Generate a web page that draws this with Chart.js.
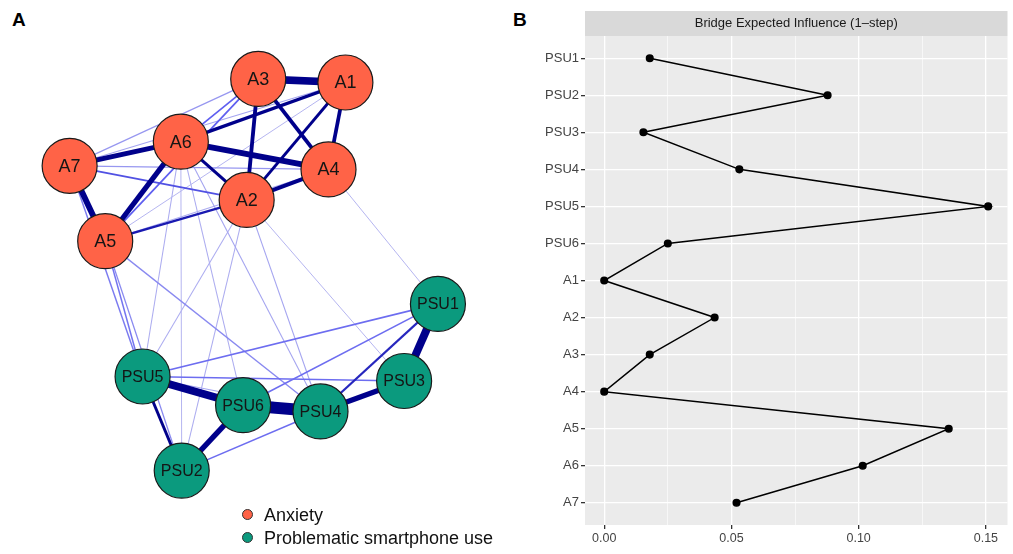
<!DOCTYPE html>
<html>
<head>
<meta charset="utf-8">
<script src="https://cdn.jsdelivr.net/npm/chart.js@4.4.0/dist/chart.umd.min.js"></script>
<style>
  body { margin: 0; width: 1013px; height: 554px; background: #fff; position: relative; overflow: hidden;
         font-family: "Liberation Sans", Arial, sans-serif; }
  #net { position: absolute; left: 0; top: 0; }
  #bei { position: absolute; left: 520px; top: 0; }
  .tag { position: absolute; font-weight: bold; font-size: 19px; color: #000; }
  .leg { position: absolute; font-size: 18px; color: #111; line-height: 20px; white-space: nowrap; }
  .dot { position: absolute; width: 11px; height: 11px; border-radius: 50%; border: 1px solid #333; box-sizing: border-box; }
</style>
</head>
<body>
<div class="tag" style="left:12px;top:9px">A</div>
<div class="tag" style="left:513px;top:9px">B</div>
<canvas id="net" width="520" height="554"></canvas>
<canvas id="bei" width="493" height="554"></canvas>
<div class="dot" style="left:242px;top:509px;background:#FF6347"></div>
<div class="leg" style="left:264px;top:505px">Anxiety</div>
<div class="dot" style="left:242px;top:532px;background:#0B9A7E"></div>
<div class="leg" style="left:264px;top:528px">Problematic smartphone use</div>
<script>
// network nodes (layout from the figure)
const nodeNames = ['A1', 'A2', 'A3', 'A4', 'A5', 'A6', 'A7', 'PSU1', 'PSU2', 'PSU3', 'PSU4', 'PSU5', 'PSU6'];
const nodeX = [356, 245, 258, 337, 86, 171, 46, 460, 172, 422, 328, 128, 241];
const nodeY = [60, 191, 56, 157, 237, 126, 153, 307, 493, 393, 427, 388, 420];
const nodeGroup = ['Anxiety', 'Anxiety', 'Anxiety', 'Anxiety', 'Anxiety', 'Anxiety', 'Anxiety',
                   'PSU', 'PSU', 'PSU', 'PSU', 'PSU', 'PSU'];

// edges (estimated strength)
const edgeFrom = ['A3', 'A7', 'A6', 'A6', 'A6', 'A3', 'A3', 'A4', 'A1', 'A1', 'A1', 'A6', 'A2',
                  'A7', 'A3', 'A3', 'A7', 'A7', 'A7', 'A1', 'A4',
                  'A4', 'A5', 'A7', 'A5', 'A5', 'A6', 'A6', 'A6', 'A6', 'A2', 'A2', 'A2', 'A2',
                  'PSU1', 'PSU5', 'PSU6', 'PSU6', 'PSU4', 'PSU5', 'PSU1', 'PSU1', 'PSU1', 'PSU5', 'PSU2', 'PSU5'];
const edgeTo = ['A1', 'A5', 'A4', 'A7', 'A5', 'A2', 'A4', 'A2', 'A4', 'A2', 'A6', 'A2', 'A5',
                'A2', 'A6', 'A5', 'A3', 'A1', 'A4', 'A5', 'A5',
                'PSU1', 'PSU5', 'PSU5', 'PSU2', 'PSU4', 'PSU5', 'PSU2', 'PSU6', 'PSU4', 'PSU5', 'PSU2', 'PSU3', 'PSU4',
                'PSU3', 'PSU6', 'PSU4', 'PSU2', 'PSU3', 'PSU2', 'PSU4', 'PSU5', 'PSU6', 'PSU3', 'PSU4', 'PSU4'];
const edgeWeight = [0.6, 0.45, 0.45, 0.38, 0.38, 0.28, 0.28, 0.3, 0.27, 0.2, 0.24, 0.22, 0.15,
                    0.11, 0.1, 0.1, 0.06, 0.05, 0.06, 0.04, 0.045,
                    0.04, 0.085, 0.08, 0.07, 0.07, 0.045, 0.04, 0.045, 0.05, 0.045, 0.045, 0.04, 0.05,
                    0.62, 0.6, 0.95, 0.4, 0.4, 0.2, 0.14, 0.09, 0.09, 0.09, 0.09, 0.05];

// bridge expected influence
const bridgeNodes = ['PSU1', 'PSU2', 'PSU3', 'PSU4', 'PSU5', 'PSU6', 'A1', 'A2', 'A3', 'A4', 'A5', 'A6', 'A7'];
const bridgeEI = [0.0179, 0.0878, 0.0154, 0.0531, 0.1509, 0.025, 0.0, 0.0434, 0.0179, 0.0, 0.1354, 0.1016, 0.052];
const xTicks = [0, 0.025, 0.05, 0.075, 0.1, 0.125, 0.15];

const groupColor = { Anxiety: '#FF6347', PSU: '#0B9A7E' };

// light lines are pale blue, strong ones dark navy
const edgeColor = (w) => {
    const rg = Math.max(0, Math.round(235 - 1400 * w));
    const b = w < 0.1 ? 240 : Math.max(139, Math.round(240 - (w - 0.1) / 0.08 * 101));
    return `rgb(${rg},${rg},${b})`;
};

const idx = (n) => nodeNames.indexOf(n);

const edgeSets = edgeFrom.map((f, i) => {
    const a = idx(f), b = idx(edgeTo[i]), w = edgeWeight[i];
    return {
        data: [{ x: nodeX[a], y: nodeY[a] }, { x: nodeX[b], y: nodeY[b] }],
        showLine: true,
        borderColor: edgeColor(w),
        borderWidth: 0.5 + w * 12,
        pointRadius: 0,
        order: 2 + Math.round((1 - w) * 100)
    };
});

const nodeLabels = {
    id: 'nodeLabels',
    afterDatasetsDraw(chart) {
        const { ctx, scales } = chart;
        ctx.save();
        ctx.fillStyle = '#151515';
        ctx.textAlign = 'center';
        ctx.textBaseline = 'middle';
        nodeNames.forEach((n, i) => {
            ctx.font = (n.length > 2 ? '16px' : '18px') + ' "Liberation Sans", Arial, sans-serif';
            ctx.fillText(n, scales.x.getPixelForValue(nodeX[i]), scales.y.getPixelForValue(nodeY[i]) + 1);
        });
        ctx.restore();
    }
};

new Chart(document.getElementById('net'), {
    type: 'scatter',
    data: {
        datasets: [{
            data: nodeNames.map((n, i) => ({ x: nodeX[i], y: nodeY[i] })),
            pointRadius: 27.5,
            pointBackgroundColor: nodeGroup.map(g => groupColor[g]),
            pointBorderColor: '#1a1a1a',
            pointBorderWidth: 1.2,
            order: 0
        }, ...edgeSets]
    },
    options: {
        responsive: false,
        animation: false,
        events: [],
        layout: { padding: 0 },
        plugins: { legend: { display: false }, tooltip: { enabled: false } },
        scales: {
            x: { type: 'linear', min: 0, max: 520, display: false },
            y: { type: 'linear', min: 0, max: 554, reverse: true, display: false }
        }
    },
    plugins: [nodeLabels]
});

// ggplot-like panel and strip
const panelBg = {
    id: 'panelBg',
    beforeDraw(chart) {
        const { ctx, chartArea: ca } = chart;
        ctx.save();
        ctx.fillStyle = '#EBEBEB';
        ctx.fillRect(ca.left, ca.top, ca.right - ca.left, ca.bottom - ca.top);
        ctx.fillStyle = '#D9D9D9';
        ctx.fillRect(ca.left, 11, ca.right - ca.left, 25);
        ctx.fillStyle = '#1A1A1A';
        ctx.font = '13px "Liberation Sans", Arial, sans-serif';
        ctx.textAlign = 'center';
        ctx.textBaseline = 'middle';
        ctx.fillText('Bridge Expected Influence (1\u2013step)', (ca.left + ca.right) / 2, 23.5);
        ctx.restore();
    }
};

const isMajor = (v) => Math.round(v * 1000) % 50 === 0;

new Chart(document.getElementById('bei'), {
    type: 'scatter',
    data: {
        datasets: [{
            data: bridgeEI.map((v, i) => ({ x: v, y: i + 1 })),
            showLine: true,
            borderColor: '#000',
            borderWidth: 1.5,
            pointRadius: 3.3,
            pointBackgroundColor: '#000',
            pointBorderColor: '#000'
        }]
    },
    options: {
        responsive: false,
        animation: false,
        events: [],
        layout: { padding: { top: 36, right: 4, left: 0, bottom: 0 } },
        plugins: { legend: { display: false }, tooltip: { enabled: false } },
        scales: {
            x: {
                type: 'linear',
                min: -0.00755,
                max: 0.1585,
                afterBuildTicks: (s) => { s.ticks = xTicks.map(v => ({ value: v })); },
                afterFit: (s) => { s.height = 29; },
                border: { display: false },
                grid: {
                    color: '#FFFFFF',
                    lineWidth: (c) => (c.tick && isMajor(c.tick.value) ? 1.3 : 0.6),
                    tickColor: (c) => (c.tick && isMajor(c.tick.value) ? '#333333' : 'rgba(0,0,0,0)'),
                    tickLength: 4
                },
                ticks: {
                    color: '#444444',
                    font: { size: 12.5, family: '"Liberation Sans", Arial, sans-serif' },
                    padding: 2,
                    maxRotation: 0,
                    autoSkip: false,
                    callback: (v) => (isMajor(v) ? v.toFixed(2) : '')
                }
            },
            y: {
                type: 'linear',
                reverse: true,
                min: 0.4,
                max: 13.6,
                afterBuildTicks: (s) => { s.ticks = bridgeNodes.map((n, i) => ({ value: i + 1 })); },
                afterFit: (s) => { s.width = 65; },
                border: { display: false },
                grid: { color: '#FFFFFF', lineWidth: 1.3, tickColor: '#333333', tickLength: 4 },
                ticks: {
                    color: '#444444',
                    font: { size: 13, family: '"Liberation Sans", Arial, sans-serif' },
                    padding: 2,
                    autoSkip: false,
                    callback: (v) => bridgeNodes[v - 1]
                }
            }
        }
    },
    plugins: [panelBg]
});
</script>
</body>
</html>
